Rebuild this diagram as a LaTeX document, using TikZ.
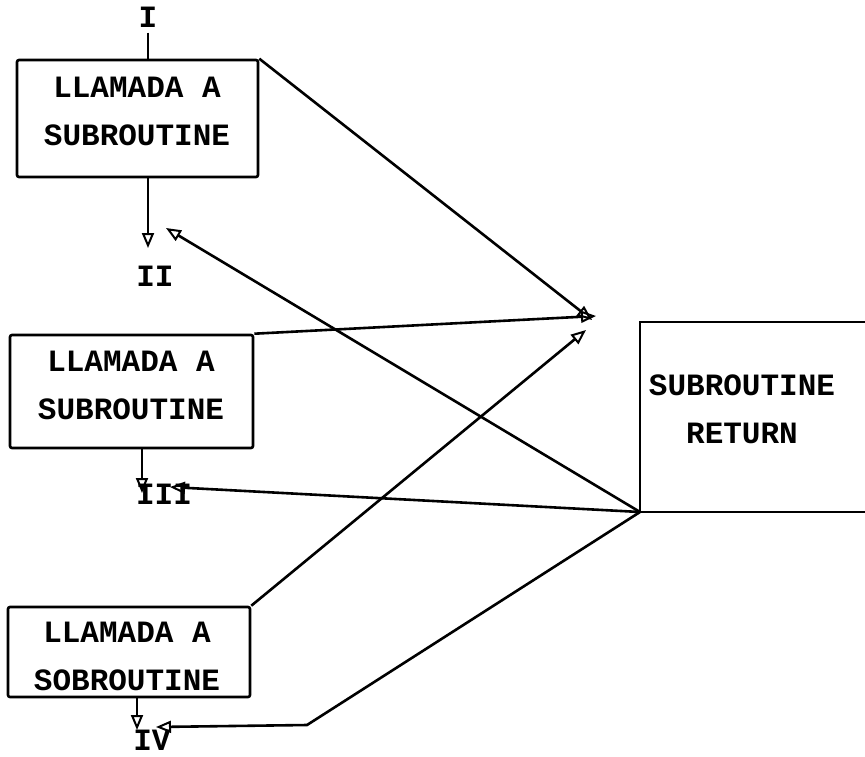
\documentclass[tikz,border=0pt]{standalone}
\usepackage{fontspec}
\setmonofont{Liberation Mono}
\usetikzlibrary{arrows.meta}
\begin{document}
\begin{tikzpicture}[x=1pt,y=-1pt,
  line width=2.6pt,
  box/.style={draw, line width=2.6pt, rounded corners=2pt},
  lbl/.style={font=\fontsize{31}{48}\selectfont\ttfamily\bfseries, align=center, inner sep=0pt},
  num/.style={font=\fontsize{31}{32}\selectfont\ttfamily\bfseries, inner sep=0pt},
  arr/.style={-{Triangle[open,length=15pt,width=12pt,line width=2pt]}}]
\useasboundingbox (0,0) rectangle (865,756);
\clip (0,0) rectangle (865,756);
% boxes
\node[box, minimum width=241pt, minimum height=117pt] (b1) at (137.5,118.5) {};
\node[box, minimum width=243pt, minimum height=113pt] (b2) at (131.5,391.5) {};
\node[box, minimum width=242pt, minimum height=90pt] (b3) at (129,652) {};
\node[lbl] (t1) at (137,111) {LLAMADA A\\SUBROUTINE};
\node[lbl] (t2) at (131,385) {LLAMADA A\\SUBROUTINE};
\node[lbl] (t3) at (127,656) {LLAMADA A\\SOBROUTINE};
% return box (right side off the page)
\coordinate (rc) at (640,512);
\coordinate (rtl) at (640,322);
\draw (880,322) -- (rtl) -- (rc) -- (880,512);
\node[lbl] (rt) at (742,409) {SUBROUTINE\\RETURN};
% roman numerals
\node[num] (n1) at (148,17) {I};
\node[num] (n2) at (155,276) {II};
\node[num] (n3) at (164,494) {III};
\node[num] (n4) at (152,740) {IV};
\draw (n1.south) ++(0,4) -- (b1.north -| n1.south);
% downward flow arrows
\coordinate (d1) at (148,248);
\coordinate (d2) at (142,493);
\coordinate (d3) at (137,730);
\draw[arr] (b1.south -| d1) -- (d1);
\draw[arr] (b2.south -| d2) -- (d2);
\draw[arr] (b3.south -| d3) -- (d3);
% calls to subroutine
\coordinate (c1) at (592,320);
\coordinate (c2) at (596,316);
\coordinate (c3) at (586,330);
\draw[arr] (b1.north east) -- (c1);
\draw[arr] (b2.north east) -- (c2);
\draw[arr] (b3.north east) -- (c3);
% returns
\coordinate (r1) at (166,228);
\coordinate (r2) at (170,487);
\coordinate (r3k) at (307,725);
\coordinate (r3) at (156,727);
\draw[arr] (rc) -- (r1);
\draw[arr] (rc) -- (r2);
\draw[arr] (rc) -- (r3k) -- (r3);
\end{tikzpicture}
\end{document}
